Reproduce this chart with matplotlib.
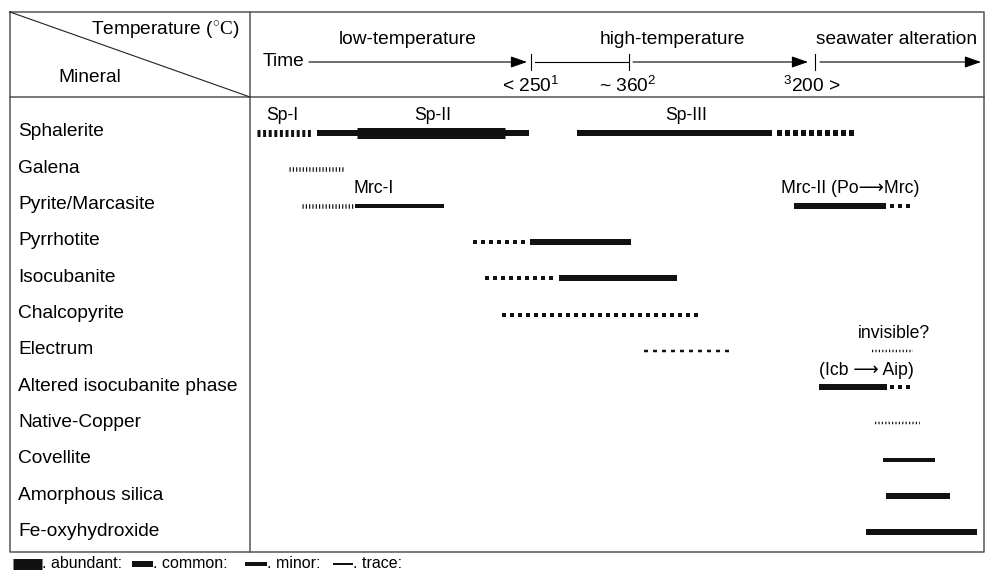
import matplotlib
matplotlib.use('Agg')
import matplotlib.pyplot as plt

plt.rcParams['font.family'] = ['Liberation Sans', 'DejaVu Sans']
plt.rcParams['lines.scale_dashes'] = False
plt.rcParams['mathtext.fontset'] = 'custom'
plt.rcParams['mathtext.rm'] = 'Liberation Serif'
plt.rcParams['mathtext.sf'] = 'Liberation Sans'

# --- data -------------------------------------------------------------
minerals = ['Sphalerite', 'Galena', 'Pyrite/Marcasite', 'Pyrrhotite',
            'Isocubanite', 'Chalcopyrite', 'Electrum',
            'Altered isocubanite phase', 'Native-Copper', 'Covellite',
            'Amorphous silica', 'Fe-oxyhydroxide']

# time position (arbitrary units along the time arrow) of each segment
sphalerite = [(257, 313, 'dot_thick'), (317, 529, 'common'), (357, 505, 'abundant'),
              (577, 772, 'common'), (777, 857, 'square_big')]
galena = [(289, 345, 'fine')]
pyrite = [(302, 353, 'fine'), (355, 444, 'minor'), (794, 886, 'common'), (890, 912, 'square')]
pyrrhotite = [(473, 528, 'square'), (530, 631, 'common')]
isocubanite = [(485, 557, 'square'), (559, 677, 'common')]
chalcopyrite = [(502, 698, 'square')]
electrum = [(644, 733, 'dashed'), (872, 913, 'fine_small')]
altered_icb = [(819, 887, 'common'), (890, 912, 'square')]
native_copper = [(875, 920, 'fine_small')]
covellite = [(883, 935, 'minor')]
silica = [(886, 950, 'common')]
fe_oxy = [(866, 977, 'common')]
segments = [sphalerite, galena, pyrite, pyrrhotite, isocubanite, chalcopyrite,
            electrum, altered_icb, native_copper, covellite, silica, fe_oxy]

# stage names and temperature marks on the time arrow
stages = ['low-temperature', 'high-temperature', 'seawater alteration']
stage_x = [408, 672, 897]
temp_labels = ['< 250' + r'$^{\mathsf{1}}$', '~ 360' + r'$^{\mathsf{2}}$', r'$^{\mathsf{3}}$' + '200 >']
temp_x = [531, 629, 815]
temp_label_x = [531, 628, 812]

# in-plot notes (text, x, mineral row)
notes = [('Sp-I', 282, 0), ('Sp-II', 433, 0), ('Sp-III', 686, 0),
         ('Mrc-I', 374, 2), ('Mrc-II (Po\u27f6Mrc)', 850, 2),
         ('invisible?', 894, 6), ('(Icb \u27f6 Aip)', 866, 7)]

legend = ['abundant', 'common', 'minor', 'trace']
legend_x = [(13, 42), (132, 153), (245, 267), (333, 353)]

# --- styles (heights / dashes in px) --------------------------------------
PX = 0.72
styles = {
    'abundant':   (11, None),
    'common':     (6, None),
    'minor':      (4, None),
    'trace':      (2, None),
    'dot_thick':  (7, (3, 2.6)),
    'square_big': (6, (5, 3)),
    'square':     (4, (4, 4)),
    'fine':       (4.5, (1.2, 2.1)),
    'fine_small': (2.5, (1.2, 2.2)),
    'dashed':     (2.5, (4, 5)),
}

def draw_seg(ax, x0, x1, y, style):
    h, dash = styles[style]
    kw = dict(color='#111111', lw=h * PX, solid_capstyle='butt', dash_capstyle='butt')
    if dash is not None:
        kw['linestyle'] = (0, (dash[0] * PX, dash[1] * PX))
    ax.plot([x0, x1], [y, y], **kw)

fig = plt.figure(figsize=(9.87, 5.73), dpi=100)
ax = fig.add_axes([0, 0, 1, 1])
ax.set_xlim(0, 987)
ax.set_ylim(573, 0)
ax.axis('off')

# frame
fc = '#555555'
L, R, T, B, HB, VX = 10, 984, 12, 552, 97, 250
ax.plot([L, R, R, L, L], [T, T, B, B, T], color=fc, lw=1.1)
ax.plot([L, R], [HB, HB], color=fc, lw=1.1)
ax.plot([VX, VX], [T, B], color=fc, lw=1.1)
ax.plot([L, VX], [T, HB], color='#222222', lw=0.8)

fs = 13.8
ax.text(240, 30, 'Temperature (' + r'$\mathrm{{}^{\circ}C}$' + ')', ha='right', va='center', fontsize=fs)
ax.text(90, 78, 'Mineral', ha='center', va='center', fontsize=fs)
ax.text(263, 62, 'Time', ha='left', va='center', fontsize=fs)

# time arrow
ya = 62
arr = dict(arrowstyle='-|>,head_length=1.0,head_width=0.35', color='k', lw=0.8,
           shrinkA=0, shrinkB=0)
ax.annotate('', xy=(temp_x[0] - 4, ya), xytext=(309, ya), arrowprops=arr)
ax.plot([temp_x[0] + 4, temp_x[1] - 1], [ya, ya], color='k', lw=0.8)
ax.annotate('', xy=(temp_x[2] - 7, ya), xytext=(temp_x[1] + 4, ya), arrowprops=arr)
ax.annotate('', xy=(981, ya), xytext=(temp_x[2] + 5, ya), arrowprops=arr)
for x in temp_x:
    ax.plot([x, x], [ya - 8, ya + 8], color='k', lw=0.8)
for s, x in zip(stages, stage_x):
    ax.text(x, 40, s, ha='center', va='center', fontsize=fs)
for s, x in zip(temp_labels, temp_label_x):
    ax.text(x, 86, s, ha='center', va='center', fontsize=fs)

# rows
y0, dy = 132, 36.3
for i, (name, segs) in enumerate(zip(minerals, segments)):
    y = y0 + i * dy
    ax.text(18, y, name, ha='left', va='center', fontsize=fs)
    for x0, x1, st in segs:
        draw_seg(ax, x0, x1, y + 1, st)

for txt, x, row in notes:
    ax.text(x, y0 + row * dy - 16, txt, ha='center', va='center', fontsize=12.7)

# legend strip under the table
ly = 564
for name, (x0, x1) in zip(legend, legend_x):
    ax.plot([x0, x1], [ly, ly], color='#111111', lw=styles[name][0] * PX, solid_capstyle='butt')
    ax.text(x1, ly, '. ' + name + ':', ha='left', va='center', fontsize=11.5)

fig.savefig('out.png', dpi=100)
